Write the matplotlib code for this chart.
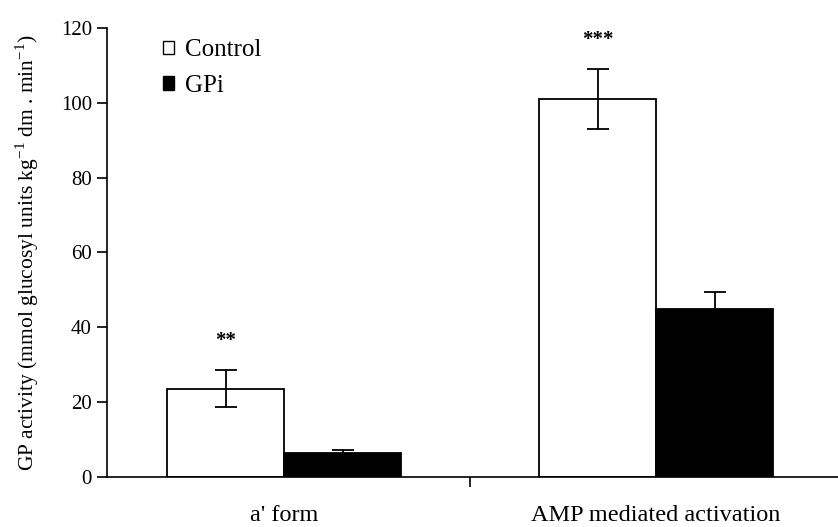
import matplotlib
matplotlib.use('Agg')
import matplotlib.pyplot as plt
from matplotlib.patches import Patch
import numpy as np

groups = ["a' form", "AMP mediated activation"]
control = [23.6, 101.0]
control_err = [5.0, 8.0]
gpi = [6.3, 44.8]
gpi_err = [1.0, 4.5]
stars = ['**', '***']

plt.rcParams['font.family'] = ['Liberation Serif', 'DejaVu Serif']
plt.rcParams['mathtext.fontset'] = 'custom'
plt.rcParams['mathtext.rm'] = 'Liberation Serif'

fig = plt.figure(figsize=(8.38, 5.27), dpi=100)
ax = fig.add_axes([0.128, 0.095, 0.872, 0.852])

x = np.arange(len(groups))
w = 0.315
ax.bar(x - w / 2, control, w, color='white', edgecolor='black', linewidth=1.3,
       yerr=control_err, error_kw=dict(ecolor='black', elinewidth=1.3, capsize=8, capthick=1.3))
ax.bar(x + w / 2, gpi, w, color='black', edgecolor='black', linewidth=1.3,
       yerr=gpi_err, error_kw=dict(ecolor='black', elinewidth=1.3, capsize=8, capthick=1.3))

for i in range(len(groups)):
    ax.text(x[i] - w / 2, control[i] + control_err[i] + 5, stars[i], ha='center', va='bottom',
            fontsize=15, fontweight='bold')

ax.set_xlim(-0.476, 1.489)
ax.set_ylim(0, 120)
ax.set_yticks(range(0, 121, 20))
ax.set_xticks([0.5])
ax.set_xticklabels([''])
ax.set_xticks(x, minor=True)
ax.set_xticklabels(groups, minor=True)
ax.tick_params(axis='x', which='minor', length=0, pad=20, labelsize=17.5)
ax.tick_params(axis='x', which='major', length=7, width=1.2, direction='out')
ax.tick_params(axis='y', length=7, width=1.2, direction='out', labelsize=15, pad=4)

for s in ['top', 'right']:
    ax.spines[s].set_visible(False)
for s in ['left', 'bottom']:
    ax.spines[s].set_linewidth(1.2)

ax.set_ylabel('GP activity (mmol glucosyl units kg$^{-1}$ dm . min$^{-1}$)', fontsize=15.5, labelpad=14)

handles = [Patch(facecolor='white', edgecolor='black', linewidth=1.0),
           Patch(facecolor='black', edgecolor='black')]
ax.legend(handles, ['Control', 'GPi'], loc='upper left', bbox_to_anchor=(0.045, 1.025),
          frameon=False, fontsize=18, handlelength=0.45, handleheight=0.45,
          handletextpad=0.45, labelspacing=0.55)

fig.savefig('out.png', dpi=100)
